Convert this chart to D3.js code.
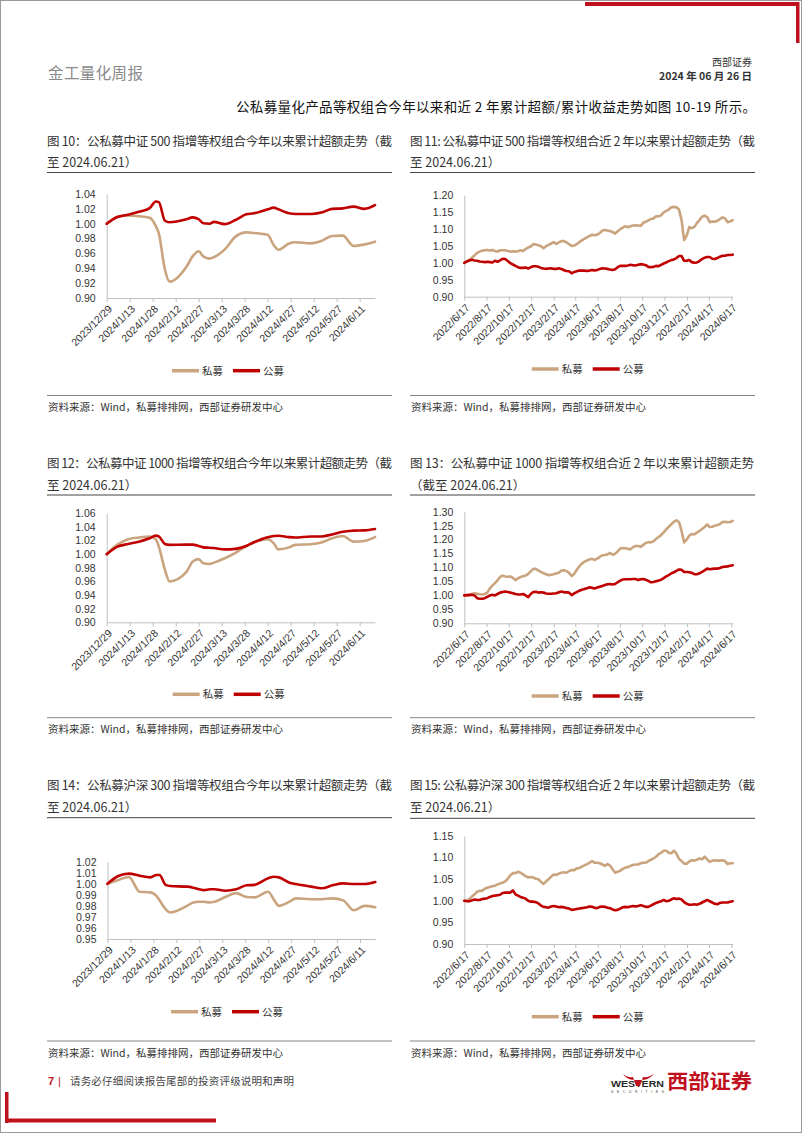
<!DOCTYPE html>
<html><head><meta charset="utf-8">
<script src="https://cdn.jsdelivr.net/npm/d3@7"></script>
<style>
body{margin:0;background:#fff;}
svg{display:block;}
.cjk{font-family:"Noto Sans CJK SC","Noto Sans",sans-serif;}
.num{font-family:"Liberation Sans",Arial,sans-serif;}
</style></head>
<body>
<svg id="page" width="802" height="1133"></svg>
<script>
// ---------- DATA ----------
const seriesNames = ['私募', '公募'];
const sourceText = '资料来源：Wind，私募排排网，西部证券研发中心';

const ytdDates = ['2023-12-29','2024-01-05','2024-01-12','2024-01-19','2024-01-26','2024-01-30','2024-02-01','2024-02-05','2024-02-08','2024-02-19','2024-02-23','2024-02-27','2024-03-01','2024-03-05','2024-03-08','2024-03-15','2024-03-22','2024-03-29','2024-04-03','2024-04-12','2024-04-16','2024-04-19','2024-04-26','2024-04-30','2024-05-10','2024-05-17','2024-05-24','2024-05-31','2024-06-07','2024-06-14','2024-06-21'];
const ytdTicks = ['2023-12-29','2024-01-13','2024-01-28','2024-02-12','2024-02-27','2024-03-13','2024-03-28','2024-04-12','2024-04-27','2024-05-12','2024-05-27','2024-06-11'];

const twoYDates = ['2022-06-17','2022-06-24','2022-07-01','2022-07-08','2022-07-15','2022-07-22','2022-07-29','2022-08-05','2022-08-12','2022-08-19','2022-08-26','2022-09-02','2022-09-09','2022-09-16','2022-09-23','2022-09-30','2022-10-07','2022-10-14','2022-10-21','2022-10-28','2022-11-04','2022-11-11','2022-11-18','2022-11-25','2022-12-02','2022-12-09','2022-12-16','2022-12-23','2022-12-30',
'2023-01-06','2023-01-13','2023-01-20','2023-01-27','2023-02-03','2023-02-10','2023-02-17','2023-02-24','2023-03-03','2023-03-10','2023-03-17','2023-03-24','2023-03-31','2023-04-07','2023-04-14','2023-04-21','2023-04-28','2023-05-05','2023-05-12','2023-05-19','2023-05-26','2023-06-02','2023-06-09','2023-06-16','2023-06-23','2023-06-30','2023-07-07','2023-07-14','2023-07-21','2023-07-28','2023-08-04','2023-08-11','2023-08-18','2023-08-25','2023-09-01','2023-09-08','2023-09-15','2023-09-22','2023-09-29','2023-10-06','2023-10-13','2023-10-20','2023-10-27','2023-11-03','2023-11-10','2023-11-17','2023-11-24','2023-12-01','2023-12-08','2023-12-15','2023-12-22','2023-12-29',
'2024-01-05','2024-01-12','2024-01-19','2024-01-26','2024-02-02','2024-02-09','2024-02-16','2024-02-23','2024-03-01','2024-03-08','2024-03-15','2024-03-22','2024-03-29','2024-04-05','2024-04-12','2024-04-19','2024-04-26','2024-05-03','2024-05-10','2024-05-17','2024-05-24','2024-05-31','2024-06-07','2024-06-14','2024-06-21'];
const twoYTicks = ['2022-06-17','2022-08-17','2022-10-17','2022-12-17','2023-02-17','2023-04-17','2023-06-17','2023-08-17','2023-10-17','2023-12-17','2024-02-17','2024-04-17','2024-06-17'];

// Fig 10: CSI 500, YTD
const c10Private = [1.000,1.0095,1.011,1.010,1.008,0.997,0.987,0.938,0.922,0.942,0.956,0.963,0.956,0.953,0.955,0.9655,0.9826,0.9884,0.9875,0.985,0.971,0.965,0.9735,0.975,0.9736,0.9767,0.9835,0.984,0.970,0.972,0.9758];
const c10Public  = [1.000,1.009,1.012,1.016,1.021,1.030,1.029,1.004,1.002,1.006,1.0085,1.006,1.0006,1.000,1.0025,0.9995,1.005,1.0126,1.014,1.0194,1.0216,1.0194,1.014,1.013,1.013,1.015,1.020,1.0207,1.023,1.020,1.025];
const c10YTicks = [0.90,0.92,0.94,0.96,0.98,1.00,1.02,1.04];

// Fig 11: CSI 500, 2 years
const c11Private = [1.000,1.004,1.009,1.015,1.022,1.029,1.033,1.036,1.037,1.038,
1.036,1.038,1.035,1.033,1.037,1.037,1.037,1.035,1.033,1.034,
1.033,1.034,1.037,1.035,1.041,1.045,1.048,1.055,1.054,1.052,
1.049,1.043,1.049,1.053,1.057,1.061,1.056,1.060,1.064,1.064,
1.060,1.055,1.050,1.051,1.055,1.061,1.066,1.071,1.075,1.079,
1.083,1.081,1.083,1.088,1.095,1.097,1.095,1.094,1.091,1.086,
1.093,1.099,1.104,1.108,1.105,1.108,1.110,1.111,1.110,1.109,
1.118,1.121,1.125,1.129,1.131,1.137,1.137,1.140,1.149,1.153,
1.157,1.164,1.165,1.164,1.157,1.126,1.067,1.080,1.105,1.102,
1.106,1.117,1.126,1.136,1.139,1.135,1.120,1.122,1.121,1.124,
1.129,1.134,1.131,1.120,1.122,1.126];
const c11Public = [1.000,1.004,1.007,1.009,1.007,1.006,1.004,1.003,1.002,1.003,
1.002,1.001,1.006,1.003,1.007,1.012,1.011,1.005,0.999,0.995,
0.991,0.987,0.985,0.985,0.986,0.983,0.987,0.990,0.990,0.988,
0.985,0.983,0.982,0.983,0.984,0.982,0.982,0.984,0.982,0.978,
0.976,0.975,0.969,0.973,0.975,0.977,0.977,0.977,0.976,0.977,
0.979,0.977,0.979,0.982,0.984,0.983,0.982,0.980,0.979,0.981,
0.987,0.991,0.991,0.991,0.992,0.994,0.993,0.992,0.994,0.996,
0.995,0.993,0.988,0.987,0.988,0.991,0.990,0.994,0.998,1.001,
1.005,1.008,1.010,1.014,1.020,1.020,1.006,1.006,1.008,1.002,
1.000,1.001,1.005,1.011,1.015,1.017,1.017,1.012,1.011,1.014,
1.018,1.021,1.021,1.023,1.023,1.024];
const c11YTicks = [0.90,0.95,1.00,1.05,1.10,1.15,1.20];

// Fig 12: CSI 1000, YTD
const c12Private = [1.000,1.014,1.022,1.0245,1.026,1.022,1.011,0.977,0.960,0.974,0.989,0.9927,0.9866,0.9856,0.9876,0.994,1.002,1.012,1.017,1.022,1.016,1.007,1.010,1.0137,1.0146,1.017,1.0233,1.0267,1.0184,1.0194,1.025];
const c12Public  = [1.000,1.011,1.015,1.0184,1.0233,1.0272,1.026,1.015,1.0137,1.014,1.014,1.012,1.010,1.0095,1.009,1.007,1.0078,1.012,1.0175,1.025,1.0267,1.027,1.025,1.0245,1.026,1.026,1.029,1.033,1.0345,1.035,1.037];
const c12YTicks = [0.90,0.92,0.94,0.96,0.98,1.00,1.02,1.04,1.06];

// Fig 13: CSI 1000, 2 years
const c13Private = [1.000,1.000,1.000,1.005,1.008,1.006,1.004,1.003,1.005,1.010,
1.025,1.035,1.044,1.054,1.066,1.071,1.068,1.067,1.068,1.063,
1.055,1.061,1.066,1.069,1.071,1.077,1.086,1.095,1.095,1.089,
1.084,1.080,1.076,1.072,1.074,1.076,1.079,1.081,1.089,1.090,
1.087,1.081,1.070,1.077,1.092,1.104,1.114,1.121,1.125,1.129,
1.131,1.127,1.132,1.138,1.144,1.145,1.147,1.152,1.146,1.149,
1.158,1.168,1.170,1.169,1.167,1.165,1.173,1.177,1.177,1.174,
1.181,1.188,1.191,1.190,1.194,1.202,1.209,1.216,1.226,1.237,
1.246,1.255,1.264,1.269,1.263,1.231,1.190,1.200,1.214,1.220,
1.219,1.225,1.231,1.238,1.245,1.254,1.245,1.246,1.250,1.252,
1.256,1.263,1.264,1.262,1.263,1.267];
const c13Public = [1.000,1.001,1.002,1.002,1.000,0.990,0.988,0.988,0.990,0.995,
1.000,1.002,1.000,1.005,1.010,1.012,1.014,1.012,1.010,1.008,
1.005,1.003,1.003,1.005,1.000,0.994,1.005,1.012,1.013,1.010,
1.011,1.010,1.007,1.006,1.006,1.007,1.008,1.011,1.014,1.011,
1.011,1.010,1.001,1.007,1.012,1.017,1.020,1.023,1.026,1.029,
1.027,1.025,1.028,1.031,1.034,1.037,1.040,1.041,1.039,1.041,
1.047,1.053,1.057,1.058,1.058,1.058,1.059,1.059,1.055,1.058,
1.059,1.056,1.052,1.047,1.048,1.051,1.053,1.056,1.062,1.068,
1.073,1.079,1.083,1.088,1.093,1.092,1.084,1.084,1.083,1.081,
1.076,1.076,1.079,1.084,1.090,1.096,1.094,1.095,1.096,1.096,
1.098,1.102,1.103,1.104,1.106,1.108];
const c13YTicks = [0.90,0.95,1.00,1.05,1.10,1.15,1.20,1.25,1.30];

// Fig 14: CSI 300, YTD
const c14Private = [1.000,1.0034,1.0062,0.9928,0.9922,0.989,0.985,0.977,0.974,0.980,0.983,0.9838,0.9838,0.983,0.9838,0.988,0.9915,0.988,0.9877,0.9928,0.985,0.980,0.9838,0.9868,0.986,0.986,0.9868,0.985,0.976,0.980,0.9787];
const c14Public  = [1.000,1.007,1.0092,1.0073,1.0058,1.008,1.008,0.999,0.998,0.9974,0.9965,0.995,0.9943,0.995,0.995,0.9937,0.995,0.9986,0.999,1.005,1.0064,1.0058,1.001,0.9998,0.9974,0.9959,0.9986,1.0004,0.9998,0.9998,1.0016];
const c14YTicks = [0.95,0.96,0.97,0.98,0.99,1.00,1.01,1.02];

// Fig 15: CSI 300, 2 years
const c15Private = [1.000,1.001,1.004,1.010,1.015,1.021,1.023,1.023,1.028,1.030,
1.032,1.034,1.035,1.038,1.040,1.042,1.045,1.051,1.059,1.064,
1.064,1.067,1.065,1.061,1.057,1.054,1.055,1.054,1.051,1.050,
1.044,1.039,1.045,1.050,1.056,1.061,1.060,1.063,1.065,1.066,
1.065,1.069,1.071,1.071,1.075,1.076,1.079,1.082,1.085,1.088,
1.092,1.088,1.088,1.087,1.084,1.081,1.085,1.082,1.073,1.065,
1.067,1.070,1.074,1.077,1.078,1.081,1.083,1.084,1.084,1.087,
1.088,1.088,1.092,1.095,1.098,1.102,1.108,1.111,1.116,1.116,
1.111,1.110,1.116,1.109,1.097,1.092,1.086,1.086,1.091,1.094,
1.093,1.095,1.098,1.096,1.102,1.096,1.090,1.093,1.094,1.093,
1.093,1.094,1.092,1.085,1.087,1.087];
const c15Public = [1.000,0.999,0.999,1.001,1.003,1.002,1.002,1.004,1.005,1.006,
1.009,1.011,1.012,1.013,1.014,1.018,1.019,1.019,1.019,1.024,
1.015,1.012,1.009,1.007,1.005,1.000,0.998,0.998,0.997,0.994,
0.989,0.986,0.985,0.984,0.987,0.988,0.987,0.985,0.986,0.985,
0.983,0.982,0.979,0.980,0.981,0.982,0.983,0.984,0.985,0.987,
0.986,0.984,0.983,0.986,0.987,0.986,0.984,0.983,0.980,0.978,
0.979,0.982,0.985,0.986,0.985,0.987,0.988,0.987,0.988,0.990,
0.988,0.986,0.986,0.989,0.992,0.995,0.997,0.999,1.002,0.999,
1.000,1.003,1.006,1.004,1.005,1.003,0.997,0.993,0.991,0.991,
0.992,0.991,0.993,0.996,0.999,1.002,0.999,0.996,0.993,0.992,
0.995,0.996,0.996,0.996,0.998,0.999];
const c15YTicks = [0.90,0.95,1.00,1.05,1.10,1.15];

const titles = {
  c10: ['图 10：公私募中证 500 指增等权组合今年以来累计超额走势（截', '至 2024.06.21）'],
  c11: ['图 11: 公私募中证 500 指增等权组合近 2 年以来累计超额走势（截', '至 2024.06.21）'],
  c12: ['图 12：公私募中证 1000 指增等权组合今年以来累计超额走势（截', '至 2024.06.21）'],
  c13: ['图 13：公私募中证 1000 指增等权组合近 2 年以来累计超额走势', '（截至 2024.06.21）'],
  c14: ['图 14：公私募沪深 300 指增等权组合今年以来累计超额走势（截', '至 2024.06.21）'],
  c15: ['图 15: 公私募沪深 300 指增等权组合近 2 年以来累计超额走势（截', '至 2024.06.21）']
};

// ---------- STYLE / LAYOUT ----------
const COL_PRIV = '#C9A47E';
const COL_PUB = '#C00000';
const TXT = '#333333';
const AXIS = '#BFBFBF';
const parse = d3.timeParse('%Y-%m-%d');
const fmtDate = d3.timeFormat('%Y/%-m/%-d');
const svg = d3.select('#page');

// page frame & decorations
svg.append('rect').attr('x',0.5).attr('y',0.5).attr('width',801).attr('height',1132).attr('fill','none').attr('stroke','#9a9a9a');
svg.append('rect').attr('x',585).attr('y',2).attr('width',214).attr('height',4).attr('fill','#C0101E');
svg.append('rect').attr('x',796).attr('y',2).attr('width',3.5).attr('height',41).attr('fill','#C0101E');
svg.append('rect').attr('x',5).attr('y',1092).attr('width',3.5).attr('height',31).attr('fill','#C0101E');
svg.append('rect').attr('x',5).attr('y',1118.5).attr('width',211).attr('height',4).attr('fill','#C0101E');

// header
svg.append('text').attr('class','cjk').attr('x',48).attr('y',79).attr('font-size',15.5).attr('fill','#8a8a8a').attr('textLength',95).attr('lengthAdjust','spacing').text('金工量化周报');
svg.append('text').attr('class','cjk').attr('x',752).attr('y',66).attr('font-size',10).attr('fill',TXT).attr('text-anchor','end').text('西部证券');
svg.append('text').attr('class','cjk').attr('x',752).attr('y',80).attr('font-size',10.5).attr('font-weight','bold').attr('fill',TXT).attr('text-anchor','end').text('2024 年 06 月 26 日');
svg.append('text').attr('class','cjk').attr('x',236).attr('y',112).attr('font-size',13.5).attr('fill','#111').attr('textLength',520).attr('lengthAdjust','spacing').text('公私募量化产品等权组合今年以来和近 2 年累计超额/累计收益走势如图 10-19 所示。');

// footer
svg.append('text').attr('class','num').attr('x',48).attr('y',1085).attr('font-size',11).attr('font-weight','bold').attr('fill','#C0101E').text('7');
svg.append('text').attr('class','num').attr('x',58).attr('y',1085).attr('font-size',11).attr('fill','#C0101E').text('|');
svg.append('text').attr('class','cjk').attr('x',70).attr('y',1085).attr('font-size',10.5).attr('fill','#444').attr('textLength',224).attr('lengthAdjust','spacing').text('请务必仔细阅读报告尾部的投资评级说明和声明');
svg.append('text').attr('class','num').attr('x',611).attr('y',1087).attr('font-size',9.5).attr('font-weight','bold').attr('fill','#2a2a2a').attr('textLength',53).attr('lengthAdjust','spacingAndGlyphs').text('WESTERN');
svg.append('text').attr('class','num').attr('x',611).attr('y',1093).attr('font-size',3.5).attr('fill','#444').attr('textLength',53).text('SECURITIES');
svg.append('path').attr('d','M622,1072 Q626,1080 634,1080 L642,1080 Q650,1080 655,1072 Q651,1078 643,1077 L640,1086 L636,1086 L633,1077 Q625,1078 622,1072 Z').attr('fill','#C0101E');
svg.append('text').attr('class','cjk').attr('x',667).attr('y',1089).attr('font-size',20).attr('font-weight','bold').attr('fill','#C0101E').attr('textLength',85).attr('lengthAdjust','spacingAndGlyphs').text('西部证券');

const monotone = d3.curveMonotoneX;
const linear = d3.curveLinear;

const charts = [
  {key:'c10', tx:47, tw:345, ty1:146, ty2:167, sepY:172.5, sepX2:392, left:106.7, right:375, top:194, bottom:298,
   yTicks:c10YTicks, dates:ytdDates, xTicks:ytdTicks, priv:c10Private, pub:c10Public, curve:monotone,
   legY:370.7, legX:172, srcLineY:395.5, srcY:411},
  {key:'c11', tx:410, tw:345, ty1:146, ty2:167, sepY:172.5, sepX2:755, left:464.3, right:732.7, top:195, bottom:296.7,
   yTicks:c11YTicks, dates:twoYDates, xTicks:twoYTicks, priv:c11Private, pub:c11Public, curve:linear,
   legY:369, legX:531.7, srcLineY:395.5, srcY:411},
  {key:'c12', tx:47, tw:345, ty1:468, ty2:490, sepY:495, sepX2:392, left:106.7, right:375, top:513.3, bottom:622.3,
   yTicks:c12YTicks, dates:ytdDates, xTicks:ytdTicks, priv:c12Private, pub:c12Public, curve:monotone,
   legY:694.3, legX:172.7, srcLineY:717.7, srcY:733},
  {key:'c13', tx:410, tw:344, ty1:468, ty2:490, sepY:495, sepX2:755, left:464.3, right:732.7, top:511.7, bottom:623.3,
   yTicks:c13YTicks, dates:twoYDates, xTicks:twoYTicks, priv:c13Private, pub:c13Public, curve:linear,
   legY:696, legX:531.7, srcLineY:717.7, srcY:733},
  {key:'c14', tx:47, tw:345, ty1:790, ty2:811.5, sepY:817.7, sepX2:392, left:107.5, right:375.3, top:861.7, bottom:939,
   yTicks:c14YTicks, dates:ytdDates, xTicks:ytdTicks, priv:c14Private, pub:c14Public, curve:monotone,
   legY:1011.7, legX:171, srcLineY:1041, srcY:1056.5},
  {key:'c15', tx:410, tw:345, ty1:790, ty2:811.5, sepY:818.3, sepX2:755, left:464.3, right:732.7, top:836, bottom:944,
   yTicks:c15YTicks, dates:twoYDates, xTicks:twoYTicks, priv:c15Private, pub:c15Public, curve:linear,
   legY:1016.7, legX:531.7, srcLineY:1041, srcY:1056.5}
];

function drawChart(cfg){
  const g = svg.append('g');
  const t = titles[cfg.key];
  g.append('text').attr('class','cjk').attr('x',cfg.tx).attr('y',cfg.ty1).attr('font-size',12.5).attr('fill',TXT)
    .attr('textLength',cfg.tw).attr('lengthAdjust','spacing').text(t[0]);
  g.append('text').attr('class','cjk').attr('x',cfg.tx).attr('y',cfg.ty2).attr('font-size',12.5).attr('fill',TXT).text(t[1]);
  g.append('line').attr('x1',cfg.tx).attr('x2',cfg.sepX2).attr('y1',cfg.sepY).attr('y2',cfg.sepY).attr('stroke','#444').attr('stroke-width',1);
  g.append('line').attr('x1',cfg.tx).attr('x2',cfg.sepX2).attr('y1',cfg.srcLineY).attr('y2',cfg.srcLineY).attr('stroke','#666').attr('stroke-width',0.8);
  g.append('text').attr('class','cjk').attr('x',cfg.tx+1).attr('y',cfg.srcY).attr('font-size',10.5).attr('fill',TXT).text(sourceText);

  const dates = cfg.dates.map(parse);
  const x = d3.scaleTime().domain([dates[0], dates[dates.length-1]]).range([cfg.left, cfg.right]);
  const y = d3.scaleLinear().domain([cfg.yTicks[0], cfg.yTicks[cfg.yTicks.length-1]]).range([cfg.bottom, cfg.top]);

  // y axis
  const ya = g.append('g').attr('transform',`translate(${cfg.left},0)`)
    .call(d3.axisLeft(y).tickValues(cfg.yTicks).tickFormat(d3.format('.2f')).tickSize(0).tickPadding(11));
  ya.select('.domain').attr('stroke',AXIS).attr('stroke-width',1);
  ya.selectAll('text').attr('class','num').attr('font-size',10.5).attr('fill',TXT).style('font-family','"Liberation Sans",Arial,sans-serif');

  // x axis
  const xa = g.append('g').attr('transform',`translate(0,${cfg.bottom})`)
    .call(d3.axisBottom(x).tickValues(cfg.xTicks.map(parse)).tickFormat(fmtDate).tickSizeInner(4).tickSizeOuter(0));
  xa.select('.domain').attr('stroke',AXIS).attr('stroke-width',1);
  xa.selectAll('.tick line').attr('stroke',AXIS);
  xa.selectAll('text').attr('y',0).attr('x',0).attr('dy','0.35em')
    .attr('transform','translate(3,9) rotate(-45)').style('text-anchor','end')
    .attr('font-size',10.5).attr('fill',TXT).style('font-family','"Liberation Sans",Arial,sans-serif');

  const series = [{name:seriesNames[0], vals:cfg.priv, col:COL_PRIV}, {name:seriesNames[1], vals:cfg.pub, col:COL_PUB}];
  const line = d3.line().x((d,i)=>x(dates[i])).y(d=>y(d)).curve(cfg.curve);
  series.forEach(s=>{
    g.append('path').datum(s.vals).attr('d',line).attr('fill','none').attr('stroke',s.col)
      .attr('stroke-width',2.6).attr('stroke-linejoin','round').attr('stroke-linecap','round');
  });

  // legend
  series.forEach((s,i)=>{
    const lx = cfg.legX + i*61;
    g.append('line').attr('x1',lx).attr('x2',lx+27).attr('y1',cfg.legY).attr('y2',cfg.legY).attr('stroke',s.col).attr('stroke-width',3.5);
    g.append('text').attr('class','cjk').attr('x',lx+30).attr('y',cfg.legY+3.8).attr('font-size',10.5).attr('fill',TXT).text(s.name);
  });
}
charts.forEach(drawChart);
</script>
</body></html>
